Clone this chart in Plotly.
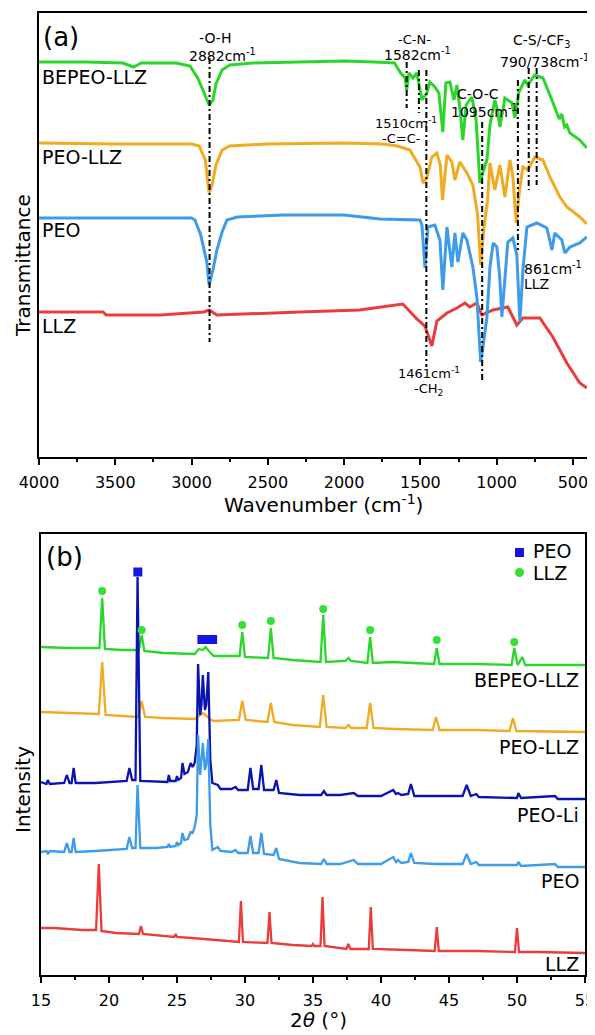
import plotly.graph_objects as go

# ---------------- (a) FTIR spectra: (wavenumber cm-1, transmittance a.u.) ----------------
FTIR_BEPEO_LLZ = [(4000, 395), (3700, 395), (3450, 394), (3380, 390), (3330, 394), (3100, 394), (3010, 391),
                  (2960, 379), (2920, 365), (2885, 352), (2860, 357), (2840, 373), (2800, 387), (2750, 392),
                  (2600, 394), (2300, 395), (2000, 396), (1800, 395), (1670, 394), (1634, 385), (1600, 379),
                  (1590, 367), (1575, 384), (1549, 379), (1523, 384), (1490, 357), (1458, 364), (1438, 375),
                  (1405, 370), (1379, 364), (1353, 325), (1333, 374), (1307, 375), (1280, 357), (1261, 372),
                  (1240, 347), (1222, 317), (1200, 352), (1163, 360), (1135, 337), (1110, 274), (1090, 285),
                  (1064, 297), (1044, 332), (1012, 357), (995, 347), (979, 330), (946, 359), (900, 354),
                  (880, 339), (854, 365), (815, 377), (796, 372), (750, 382), (697, 379), (651, 362),
                  (606, 345), (590, 338), (573, 343), (555, 330), (540, 332), (520, 324), (455, 317), (409, 309)]
FTIR_PEO_LLZ = [(4000, 314), (3500, 313), (3000, 313), (2950, 311), (2910, 297), (2885, 264), (2865, 272),
                (2840, 292), (2800, 307), (2750, 311), (2500, 313), (2000, 314), (1750, 313), (1650, 311),
                (1569, 307), (1503, 290), (1483, 274), (1458, 279), (1425, 300), (1392, 304), (1370, 292),
                (1355, 257), (1326, 302), (1294, 295), (1274, 277), (1241, 295), (1195, 284), (1156, 272),
                (1125, 242), (1105, 192), (1085, 227), (1060, 257), (1044, 294), (1012, 267), (979, 292),
                (946, 260), (913, 297), (895, 282), (872, 234), (850, 267), (828, 290), (796, 287),
                (750, 300), (697, 297), (651, 280), (586, 260), (540, 250), (455, 240), (409, 233)]
FTIR_PEO = [(4000, 239), (3500, 239), (3000, 239), (2978, 237), (2940, 222), (2900, 195), (2885, 172),
            (2860, 187), (2834, 207), (2800, 225), (2768, 237), (2700, 240), (2400, 242), (2000, 242),
            (1765, 238), (1503, 237), (1490, 232), (1470, 189), (1451, 230), (1405, 232), (1372, 217),
            (1353, 167), (1326, 230), (1294, 190), (1274, 224), (1254, 195), (1222, 224), (1195, 217),
            (1156, 190), (1130, 160), (1105, 95), (1090, 110), (1064, 140), (1044, 190), (1023, 214),
            (999, 210), (980, 180), (966, 140), (950, 175), (927, 215), (894, 219), (868, 202), (848, 135),
            (828, 187), (802, 230), (737, 234), (671, 229), (638, 207), (619, 224), (573, 217), (553, 204),
            (520, 210), (455, 214), (409, 220)]
FTIR_LLZ = [(4000, 145), (3580, 145), (3560, 142), (3200, 142), (2920, 145), (2885, 147), (2834, 142),
            (2600, 143), (2290, 145), (1900, 147), (1615, 153), (1523, 138), (1470, 131), (1425, 111),
            (1392, 136), (1326, 144), (1261, 149), (1208, 154), (1176, 150), (1130, 154), (1097, 142),
            (1025, 147), (927, 150), (868, 132), (828, 139), (717, 139), (632, 120), (540, 94),
            (455, 74), (409, 69)]

FTIR_TICKS = [4000, 3500, 3000, 2500, 2000, 1500, 1000, 500]

# ---------------- (b) XRD patterns: (2theta deg, intensity a.u.) ----------------
XRD_BEPEO_LLZ = [(15.0, 328), (17.0, 327), (19.3, 327), (19.5, 377), (19.7, 326), (21.0, 325), (22.2, 325),
                 (22.4, 340), (22.6, 324), (24.0, 322), (26.3, 321), (26.6, 326), (26.9, 325), (27.1, 328),
                 (27.4, 323), (27.7, 319), (29.6, 319), (29.8, 343), (30.0, 318), (31.7, 317), (31.9, 347),
                 (32.1, 317), (33.5, 315), (35.55, 313), (35.75, 360), (35.95, 313), (37.4, 314), (37.6, 317),
                 (37.8, 314), (39.0, 312), (39.2, 338), (39.4, 312), (40.8, 313), (43.9, 311), (44.1, 327),
                 (44.3, 311), (47.0, 311), (49.6, 310), (49.8, 327), (50.05, 310), (50.4, 318), (50.6, 310),
                 (55.0, 310)]
XRD_PEO_LLZ = [(15.0, 263), (17.0, 262), (19.25, 261), (19.5, 313), (19.75, 260), (21.0, 259), (22.15, 258),
               (22.4, 274), (22.65, 258), (24.0, 257), (26.3, 256), (26.6, 259), (26.9, 262), (27.1, 260),
               (27.4, 256), (27.7, 254), (29.55, 255), (29.8, 274), (30.05, 255), (31.65, 253), (31.9, 272),
               (32.15, 253), (33.5, 250), (35.5, 248), (35.75, 280), (36.0, 248), (37.4, 247), (37.6, 250),
               (37.8, 247), (38.95, 247), (39.2, 272), (39.45, 247), (41.0, 246), (43.8, 245), (44.05, 258),
               (44.3, 245), (47.0, 245), (49.45, 244), (49.7, 257), (49.95, 244), (55.0, 243)]
XRD_PEO_LI = [(15.0, 193), (15.4, 191), (15.5, 195), (15.65, 191), (16.7, 192), (16.9, 200), (17.1, 192),
              (17.25, 192), (17.4, 207), (17.55, 192), (19.0, 192), (20.0, 193), (21.3, 194), (21.5, 207),
              (21.7, 195), (21.95, 195), (22.1, 398), (22.3, 194), (23.5, 193), (24.3, 193), (24.4, 200),
              (24.5, 194), (24.9, 194), (25.0, 199), (25.1, 195), (25.3, 197), (25.4, 212), (25.55, 201),
              (25.8, 203), (26.0, 212), (26.15, 208), (26.3, 212), (26.45, 230), (26.55, 311), (26.7, 260),
              (26.8, 270), (26.9, 300), (27.05, 265), (27.15, 270), (27.3, 303), (27.45, 215), (27.6, 192),
              (28.0, 190), (28.2, 186), (29.0, 186), (29.3, 188), (29.5, 185), (30.2, 185), (30.4, 207),
              (30.6, 186), (31.0, 186), (31.2, 210), (31.4, 185), (32.1, 185), (32.3, 195), (32.5, 182),
              (34.0, 180), (35.6, 180), (35.8, 184), (36.0, 180), (37.0, 180), (38.0, 182), (38.3, 179),
              (40.0, 179), (40.9, 185), (41.1, 181), (41.25, 182), (41.5, 180), (42.0, 181), (42.2, 191),
              (42.45, 179), (44.0, 179), (46.0, 179), (46.3, 190), (46.6, 179), (47.0, 181), (47.2, 178),
              (50.0, 177), (50.1, 182), (50.3, 177), (52.8, 179), (53.0, 176), (55.0, 176)]
XRD_PEO = [(15.0, 123), (15.4, 124), (15.5, 121), (15.65, 124), (16.7, 123), (16.9, 132), (17.1, 123),
           (17.25, 123), (17.4, 137), (17.55, 123), (19.0, 124), (20.0, 125), (21.3, 126), (21.5, 138),
           (21.7, 127), (21.95, 127), (22.1, 190), (22.3, 127), (23.5, 127), (24.3, 128), (24.4, 131),
           (24.5, 128), (24.9, 129), (25.0, 133), (25.1, 130), (25.3, 132), (25.4, 142), (25.55, 135),
           (25.8, 136), (26.0, 143), (26.15, 142), (26.3, 148), (26.45, 160), (26.55, 240), (26.7, 200),
           (26.8, 215), (26.9, 232), (27.05, 205), (27.15, 210), (27.3, 236), (27.45, 150), (27.6, 125),
           (28.0, 128), (28.2, 124), (29.0, 123), (29.3, 125), (29.5, 122), (30.2, 122), (30.4, 139),
           (30.6, 122), (31.0, 122), (31.2, 142), (31.4, 121), (32.1, 120), (32.3, 127), (32.5, 116),
           (34.0, 112), (35.6, 111), (35.8, 116), (36.0, 111), (37.0, 111), (38.0, 115), (38.3, 111),
           (40.0, 111), (40.9, 118), (41.1, 113), (41.25, 115), (41.5, 112), (42.0, 113), (42.2, 122),
           (42.45, 112), (44.0, 111), (46.0, 111), (46.3, 121), (46.6, 111), (47.0, 113), (47.2, 110),
           (50.0, 110), (50.1, 113), (50.3, 109), (52.8, 111), (53.0, 108), (55.0, 108)]
XRD_LLZ = [(15.0, 47), (16.0, 47), (17.0, 46), (18.0, 45), (19.05, 45), (19.25, 111), (19.45, 44), (20.5, 42),
           (22.2, 41), (22.35, 49), (22.5, 41), (24.0, 39), (24.8, 38), (24.9, 41), (25.0, 38), (27.0, 36),
           (28.5, 34), (29.55, 33), (29.7, 74), (29.85, 33), (31.65, 32), (31.8, 63), (31.95, 32), (33.5, 30),
           (34.9, 29), (35.0, 31), (35.1, 29), (35.55, 29), (35.7, 78), (35.85, 29), (37.45, 26), (37.6, 31),
           (37.75, 26), (39.1, 26), (39.25, 68), (39.4, 26), (42.0, 25), (43.95, 24), (44.1, 48), (44.25, 24),
           (47.0, 24), (49.85, 23), (50.0, 47), (50.15, 23), (51.5, 23), (55.0, 22)]

LLZ_MARK_2T = [19.5, 22.4, 29.8, 31.9, 35.75, 39.2, 44.1, 49.8]
LLZ_MARK_I = [384, 345, 350, 354, 366, 345, 335, 333]
PEO_MARK_2T = [22.12]
PEO_MARK_I = [403]
PEO_BAND_2T = (26.5, 27.95)
PEO_BAND_I = (331, 340)

XRD_TICKS = [15, 20, 25, 30, 35, 40, 45, 50, 55]

# ---------------- styling ----------------
GREEN = "#2bd62b"
ORANGE = "#f0ab22"
LBLUE = "#3d9be9"
DBLUE = "#0a14b0"
RED = "#eb3c3c"
MGREEN = "#33e033"
MBLUE = "#1515e6"
FONT = "DejaVu Sans"

OFF = 8                      # page body margin offset of the plot div
W, H = 595 - OFF, 1035 - OFF
ML, MR, MT, MB = 39 - OFF, 8, 13 - OFF, 60


def pxx(px):
    return (px - OFF - ML) / (W - ML - MR)


def pxy(py):
    return (H - MB - (py - OFF)) / (H - MT - MB)


fig = go.Figure()


def add_line(data, color, width, xa, ya):
    fig.add_trace(go.Scatter(x=[p[0] for p in data], y=[p[1] for p in data], mode="lines",
                             line=dict(color=color, width=width), xaxis=xa, yaxis=ya,
                             showlegend=False, hoverinfo="skip"))


for d, c in [(FTIR_LLZ, RED), (FTIR_PEO, LBLUE), (FTIR_PEO_LLZ, ORANGE), (FTIR_BEPEO_LLZ, GREEN)]:
    add_line(d, c, 3, "x", "y")

for d, c in [(XRD_LLZ, RED), (XRD_PEO_LLZ, ORANGE), (XRD_BEPEO_LLZ, GREEN), (XRD_PEO_LI, DBLUE), (XRD_PEO, LBLUE)]:
    add_line(d, c, 2.3, "x2", "y2")

fig.add_trace(go.Scatter(x=LLZ_MARK_2T, y=LLZ_MARK_I, mode="markers", xaxis="x2", yaxis="y2",
                         marker=dict(symbol="circle", size=8, color=MGREEN, line=dict(width=0)),
                         showlegend=False, hoverinfo="skip"))
fig.add_trace(go.Scatter(x=PEO_MARK_2T, y=PEO_MARK_I, mode="markers", xaxis="x2", yaxis="y2",
                         marker=dict(symbol="square", size=9, color=MBLUE, line=dict(width=0)),
                         showlegend=False, hoverinfo="skip"))

shapes = []
shapes.append(dict(type="rect", xref="x2", yref="y2", x0=PEO_BAND_2T[0], x1=PEO_BAND_2T[1],
                   y0=PEO_BAND_I[0], y1=PEO_BAND_I[1], fillcolor=MBLUE, line=dict(width=0)))

# marker guide lines in panel (a): (wavenumber, y_from, y_to)
GUIDES = [(2882, 399, 115), (1590, 395, 349), (1510, 387, 344), (1461, 387, 90), (1095, 335, 75),
          (861, 377, 207), (790, 389, 267), (738, 389, 272)]
for wn, y0, y1 in GUIDES:
    shapes.append(dict(type="line", xref="x", yref="y", x0=wn, x1=wn, y0=y0, y1=y1,
                       line=dict(color="black", width=2, dash="6px,3px,2px,3px")))

# legend keys in panel (b)
shapes.append(dict(type="rect", xref="paper", yref="paper", x0=pxx(515), x1=pxx(524), y0=pxy(557), y1=pxy(548),
                   fillcolor=MBLUE, line=dict(width=0)))
shapes.append(dict(type="circle", xref="paper", yref="paper", x0=pxx(515), x1=pxx(524), y0=pxy(577), y1=pxy(568),
                   fillcolor=MGREEN, line=dict(width=0)))

ann = []


def A(text, x, y, size, xref="x", yref="y", xanchor="center", **kw):
    ann.append(dict(text=text, x=x, y=y, xref=xref, yref=yref, showarrow=False, xanchor=xanchor,
                    yanchor="middle", borderpad=0, font=dict(family=FONT, size=size, color="black"), **kw))


# panel (a) texts
A("(a)", 3980, 420, 26, xanchor="left")
A("BEPEO-LLZ", 3987, 380, 19, xanchor="left")
A("PEO-LLZ", 3987, 300, 19, xanchor="left")
A("PEO", 3987, 227, 19, xanchor="left")
A("LLZ", 3987, 131, 19, xanchor="left")
A("-O-H", 2847, 419, 14)
A("2882cm<sup>-1</sup>", 2800, 402, 14)
A("-C-N-", 1536, 418, 13)
A("1582cm<sup>-1</sup>", 1516, 403, 14)
A("C-S/-CF<sub>3</sub>", 704, 416, 14)
A("790/738cm<sup>-1</sup>", 684, 396, 14)
A("C-O-C", 1123, 363, 14)
A("1095cm<sup>-1</sup>", 1077, 346, 14)
A("1510cm<sup>-1</sup>", 1595, 334, 13)
A("-C=C-", 1621, 319, 13)
A("861cm<sup>-1</sup>", 828, 189, 14, xanchor="left")
A("LLZ", 828, 173, 14, xanchor="left")
A("1461cm<sup>-1</sup>", 1444, 84, 13)
A("-CH<sub>2</sub>", 1450, 68, 13)

# panel (b) texts
A("(b)", 15.3, 418, 26, xref="x2", yref="y2", xanchor="left")
A("BEPEO-LLZ", 54.63, 295, 19, xref="x2", yref="y2", xanchor="right")
A("PEO-LLZ", 54.63, 228, 19, xref="x2", yref="y2", xanchor="right")
A("PEO-Li", 54.63, 160, 19, xref="x2", yref="y2", xanchor="right")
A("PEO", 54.63, 94, 19, xref="x2", yref="y2", xanchor="right")
A("LLZ", 54.63, 11, 19, xref="x2", yref="y2", xanchor="right")
A("PEO", pxx(532), pxy(551), 19, xref="paper", yref="paper", xanchor="left")
A("LLZ", pxx(532), pxy(573), 19, xref="paper", yref="paper", xanchor="left")

# axis titles
A("Wavenumber (cm<sup>-1</sup>)", pxx(323), pxy(504), 20, xref="paper", yref="paper")
A("2<i>θ</i> (°)", pxx(318), pxy(1020), 20, xref="paper", yref="paper")
A("Transmittance", pxx(23), pxy(266), 20, xref="paper", yref="paper", textangle=-90)
A("Intensity", pxx(23), pxy(790), 20, xref="paper", yref="paper", textangle=-90)

axis_common = dict(showline=True, linecolor="black", linewidth=1.5, mirror=True, showgrid=False,
                   zeroline=False, automargin=False)

fig.update_layout(
    width=W, height=H, margin=dict(l=ML, r=MR, t=MT, b=MB, autoexpand=False),
    paper_bgcolor="white", plot_bgcolor="white",
    font=dict(family=FONT, color="black"),
    showlegend=False,
    xaxis=dict(domain=[0, 1], range=[4000, 408], anchor="y", tickmode="array", tickvals=FTIR_TICKS,
               ticks="outside", ticklen=6, tickwidth=1.5, tickcolor="black", ticklabelstandoff=4,
               ticklabeloverflow="allow",
               tickfont=dict(family=FONT, size=16, color="black"),
               minor=dict(tickmode="array", tickvals=[3750, 3250, 2750, 2250, 1750, 1250, 750],
                          ticks="outside", ticklen=3, tickwidth=1.5, tickcolor="black"),
               **axis_common),
    yaxis=dict(domain=[pxy(457), 1], range=[0, 444], anchor="x", showticklabels=False, ticks="",
               **axis_common),
    xaxis2=dict(domain=[pxx(41), pxx(585)], range=[15, 55], anchor="y2", tickmode="array", tickvals=XRD_TICKS,
                ticks="outside", ticklen=6, tickwidth=1.5, tickcolor="black", ticklabelstandoff=4,
                ticklabeloverflow="allow",
                tickfont=dict(family=FONT, size=16, color="black"),
                minor=dict(tickmode="array", tickvals=[17.5, 22.5, 27.5, 32.5, 37.5, 42.5, 47.5, 52.5],
                           ticks="outside", ticklen=3, tickwidth=1.5, tickcolor="black"),
                **axis_common),
    yaxis2=dict(domain=[0, pxy(534)], range=[0, 441], anchor="x2", showticklabels=False, ticks="",
                **axis_common),
    shapes=shapes,
    annotations=ann,
)

fig.write_html("out.html")
